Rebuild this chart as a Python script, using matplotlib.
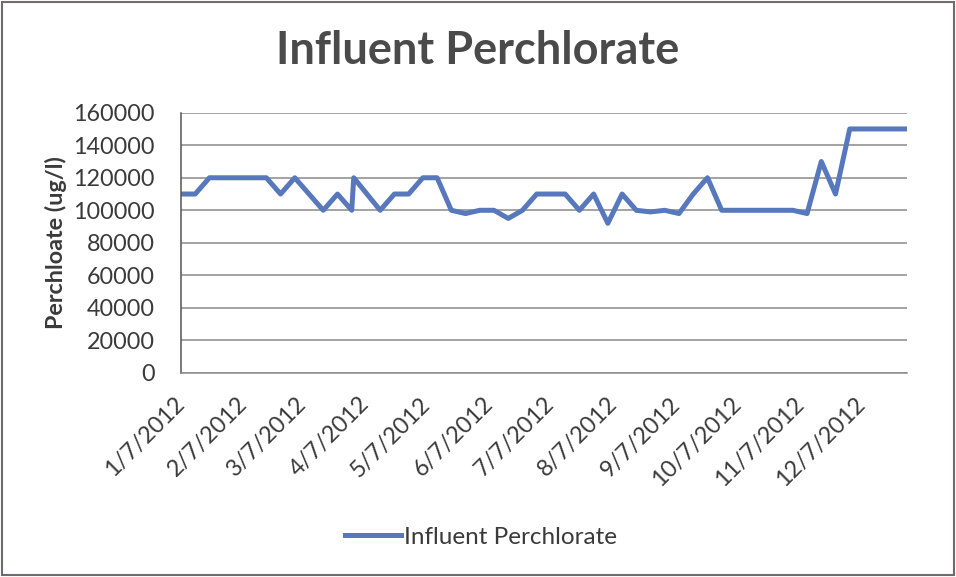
#!/usr/bin/env python3
"""Influent perchlorate, weekly samples 2012 (Excel-style line chart)."""
import pandas as pd
import matplotlib
matplotlib.use("Agg")
import matplotlib.pyplot as plt
from matplotlib.patches import Rectangle

# sample dates and readings (ug/l)
dates = [
    "2012-01-07", "2012-01-14", "2012-01-21", "2012-01-28", "2012-02-04",
    "2012-02-11", "2012-02-18", "2012-02-25", "2012-03-03", "2012-03-10",
    "2012-03-17", "2012-03-24", "2012-03-31", "2012-04-01", "2012-04-14",
    "2012-04-21", "2012-04-28", "2012-05-05", "2012-05-12", "2012-05-19",
    "2012-05-26", "2012-06-02", "2012-06-09", "2012-06-16", "2012-06-23",
    "2012-06-30", "2012-07-07", "2012-07-14", "2012-07-21", "2012-07-28",
    "2012-08-04", "2012-08-11", "2012-08-18", "2012-08-25", "2012-09-01",
    "2012-09-08", "2012-09-15", "2012-09-22", "2012-09-29", "2012-10-06",
    "2012-10-13", "2012-10-20", "2012-10-27", "2012-11-03", "2012-11-10",
    "2012-11-17", "2012-11-24", "2012-12-01", "2012-12-08", "2012-12-15",
    "2012-12-22", "2012-12-29",
]
perchlorate = [
    110000, 110000, 120000, 120000, 120000,
    120000, 120000, 110000, 120000, 110000,
    100000, 110000, 100000, 120000, 100000,
    110000, 110000, 120000, 120000, 100000,
    98000, 100000, 100000, 95000, 100000,
    110000, 110000, 110000, 100000, 110000,
    92000, 110000, 100000, 99000, 100000,
    98000, 110000, 120000, 100000, 100000,
    100000, 100000, 100000, 100000, 98000,
    130000, 110000, 150000, 150000, 150000,
    150000, 150000,
]
tick_dates = ["2012-%02d-07" % m for m in range(1, 13)]
tick_labels = ["%d/7/2012" % m for m in range(1, 13)]
y_ticks = list(range(0, 160001, 20000))

FONT = "Lato"
TXT = "#3a3a3a"
BLUE = "#5878bd"

x = pd.to_datetime(dates)

fig = plt.figure(figsize=(9.56, 5.77), dpi=100)
ax = fig.add_axes([0.1893, 0.3536, 0.7591, 0.4511])

ax.plot(x, perchlorate, color=BLUE, linewidth=3.6, solid_joinstyle="round",
        label="Influent Perchlorate")

ax.set_xlim(x[0], x[-1])
ax.set_ylim(0, 160000)
ax.set_yticks(y_ticks)
ax.set_yticklabels([str(v) for v in y_ticks], fontsize=16.8, family=FONT, color=TXT)
ax.set_xticks(pd.to_datetime(tick_dates))
ax.set_xticklabels(tick_labels, fontsize=16.8, family=FONT, color=TXT,
                   rotation=45, ha="right", va="center", rotation_mode="anchor")
ax.tick_params(axis="both", length=0)
ax.tick_params(axis="y", pad=19)
ax.tick_params(axis="x", pad=20)

ax.grid(True, axis="y", color="#8a8a8a", linewidth=1.1)
ax.set_axisbelow(True)
for s in ["top", "right"]:
    ax.spines[s].set_visible(False)
ax.spines["left"].set_color("#555555")
ax.spines["bottom"].set_color("#8a8a8a")
ax.spines["left"].set_linewidth(1.1)
ax.spines["bottom"].set_linewidth(1.1)

ax.set_ylabel("Perchloate (ug/l)", fontsize=16.8, family=FONT, fontweight="bold",
              color=TXT, labelpad=4)
fig.text(0.5, 0.911, "Influent Perchlorate", ha="center", va="center",
         fontsize=32.5, family=FONT, fontweight="bold", color="#4a4a4a")

fig.legend(loc="center", bbox_to_anchor=(0.503, 0.069), frameon=False,
           prop={"family": FONT, "size": 17.5}, handlelength=2.3, handletextpad=0.1,
           labelcolor=TXT)

# chart area border from the scan
fig.patches.append(Rectangle((0.002, 0.003), 0.996, 0.994, transform=fig.transFigure,
                             fill=False, edgecolor="#6e6a6e", linewidth=1.5))

fig.savefig("out.png", dpi=100)
